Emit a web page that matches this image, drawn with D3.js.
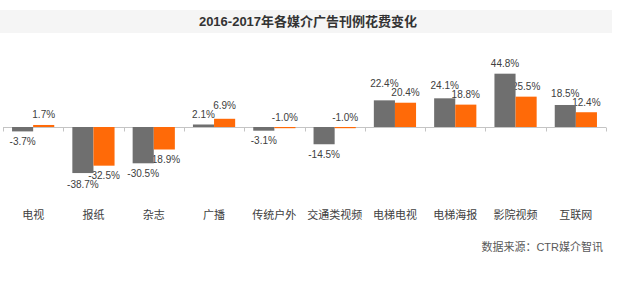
<!DOCTYPE html>
<html>
<head>
<meta charset="utf-8">
<script src="https://cdn.jsdelivr.net/npm/d3@7"></script>
<style>
  body { margin: 0; background: #fff; }
  text { font-family: "Liberation Sans", Arial, "Noto Sans CJK SC", sans-serif; }
</style>
</head>
<body>
<div id="vis"></div>
<script>
// data
var categories = ['电视', '报纸', '杂志', '广播', '传统户外', '交通类视频', '电梯电视', '电梯海报', '影院视频', '互联网'];
var seriesNames = ['2016', '2017'];
var values2016 = [-3.7, -38.7, -30.5, 2.1, -3.1, -14.5, 22.4, 24.1, 44.8, 18.5];
var values2017 = [1.7, -32.5, -18.9, 6.9, -1.0, -1.0, 20.4, 18.8, 25.5, 12.4];
var colours = ['#6f6f6f', '#ff6a08'];

var width = 636;
var height = 287;

var svg = d3.select('#vis')
    .append('svg')
    .attr('width', width)
    .attr('height', height);

// title band
svg.append('rect')
    .attr('x', 0)
    .attr('y', 10)
    .attr('width', 612)
    .attr('height', 23)
    .attr('fill', '#f5f5f5');

svg.append('text')
    .attr('x', 308)
    .attr('y', 21.5)
    .attr('dy', '0.35em')
    .attr('text-anchor', 'middle')
    .attr('font-size', 13)
    .attr('font-weight', 'bold')
    .attr('fill', '#333')
    .text('2016-2017年各媒介广告刊例花费变化');

var x0 = d3.scaleBand()
    .domain(categories)
    .range([3, 606])
    .paddingInner(0.3)
    .paddingOuter(0.15);

var x1 = d3.scaleBand()
    .domain(seriesNames)
    .range([0, x0.bandwidth()]);

var y = d3.scaleLinear()
    .domain([-50, 50])
    .range([186.5, 67.5]);

var colour = d3.scaleOrdinal()
    .domain(seriesNames)
    .range(colours);

// label position: above the bar end, or below it for clear negatives
function labelY(v) {
    if (v > -2) return y(Math.max(v, 0)) - 10;
    return y(v) + 10;
}

var minGap = 9;

var data = categories.map(function(c, i) {
    var vals = [values2016[i], values2017[i]].map(function(v, j) {
        return { series: seriesNames[j], value: v, ly: labelY(v) };
    });
    // push the outer label away when the pair sits too close
    var a = vals[0], b = vals[1];
    var above = a.ly < y(0) && b.ly < y(0);
    var below = a.ly > y(0) && b.ly > y(0);
    if ((above || below) && Math.abs(a.ly - b.ly) < minGap) {
        if (above) {
            var hi = a.ly <= b.ly ? a : b, lo = hi === a ? b : a;
            hi.ly = lo.ly - minGap;
        } else {
            var dn = a.ly >= b.ly ? a : b, up = dn === a ? b : a;
            dn.ly = up.ly + minGap;
        }
    }
    return { category: c, values: vals };
});

// axis line at zero with ticks between categories
var zeroY = Math.round(y(0)) + 0.5;
var gap = x0.step() * x0.paddingInner() / 2;
var bounds = categories.map(function(c) { return x0(c) - gap; });
bounds.push(x0(categories[categories.length - 1]) + x0.bandwidth() + gap);

svg.append('line')
    .attr('x1', bounds[0])
    .attr('x2', bounds[bounds.length - 1])
    .attr('y1', zeroY)
    .attr('y2', zeroY)
    .attr('stroke', '#c4c4c4');

svg.selectAll('.tick')
    .data(bounds)
    .enter()
    .append('line')
    .attr('class', 'tick')
    .attr('x1', function(d) { return Math.round(d) + 0.5; })
    .attr('x2', function(d) { return Math.round(d) + 0.5; })
    .attr('y1', zeroY)
    .attr('y2', zeroY + 4)
    .attr('stroke', '#c4c4c4');

var groups = svg.selectAll('.group')
    .data(data)
    .enter()
    .append('g')
    .attr('class', 'group')
    .attr('transform', function(d) { return 'translate(' + x0(d.category) + ',0)'; });

// value labels first, bars drawn over them like in the original
groups.selectAll('.label')
    .data(function(d) { return d.values; })
    .enter()
    .append('text')
    .attr('class', 'label')
    .attr('x', function(d) { return x1(d.series) + x1.bandwidth() / 2; })
    .attr('y', function(d) { return d.ly; })
    .attr('dy', '0.35em')
    .attr('text-anchor', 'middle')
    .attr('font-size', 10)
    .attr('fill', '#404040')
    .text(function(d) { return d.value.toFixed(1) + '%'; });

groups.selectAll('.bar')
    .data(function(d) { return d.values; })
    .enter()
    .append('rect')
    .attr('class', 'bar')
    .attr('x', function(d) { return x1(d.series); })
    .attr('width', x1.bandwidth())
    .attr('y', function(d) { return y(Math.max(d.value, 0)); })
    .attr('height', function(d) { return Math.abs(y(d.value) - y(0)); })
    .attr('fill', function(d) { return colour(d.series); });

// category names
svg.selectAll('.cat')
    .data(categories)
    .enter()
    .append('text')
    .attr('class', 'cat')
    .attr('x', function(d) { return x0(d) + x0.bandwidth() / 2; })
    .attr('y', 215)
    .attr('dy', '0.35em')
    .attr('text-anchor', 'middle')
    .attr('font-size', 11)
    .attr('fill', '#404040')
    .text(function(d) { return d; });

svg.append('text')
    .attr('x', 603)
    .attr('y', 247)
    .attr('dy', '0.35em')
    .attr('text-anchor', 'end')
    .attr('font-size', 11)
    .attr('fill', '#595959')
    .text('数据来源：CTR媒介智讯');
</script>
</body>
</html>
